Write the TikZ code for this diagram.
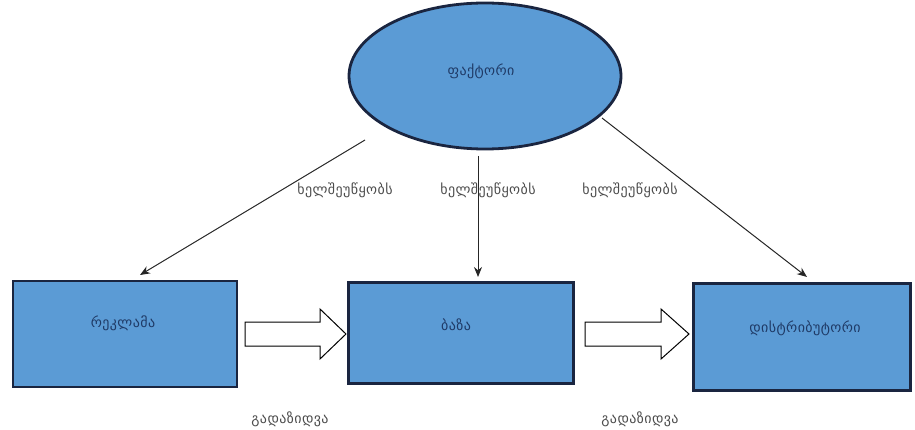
\documentclass[tikz,border=0pt]{standalone}
\usepackage{fontspec}
\setmainfont{DejaVu Sans}[LetterSpace=3]
\usetikzlibrary{shapes.geometric,arrows.meta}
\definecolor{boxfill}{HTML}{5B9BD5}
\definecolor{boxline}{HTML}{1A2540}
\definecolor{boxtext}{HTML}{1F3A66}
\tikzset{
  blk/.style={draw=boxline,line width=2.8pt,fill=boxfill,inner sep=0pt},
  intext/.style={text=boxtext,font=\fontsize{14}{16}\selectfont},
  lbl/.style={text=black!70,font=\fontsize{14}{16}\selectfont},
  conn/.style={draw=black!85,line width=1pt,-{Stealth[length=10pt,width=8pt]}},
  fatarrow/.style={draw=black,line width=1pt,fill=white}
}
\begin{document}
\begin{tikzpicture}[x=1pt,y=-1pt]
\useasboundingbox (0,0) rectangle (915,430);
\node[blk,ellipse,minimum width=272,minimum height=146] (god) at (485,76) {};
\node[intext] at (481,71) {ფაქტორი};
\node[blk,rectangle,minimum width=224,minimum height=106] (b1) at (125,334) {};
\node[blk,rectangle,minimum width=225,minimum height=101] (b2) at (461,333) {};
\node[blk,rectangle,minimum width=217,minimum height=107] (b3) at (802,337) {};
\node[intext] at (123,323) {რეკლამა};
\node[intext] at (456,325) {ბაზა};
\node[intext] at (805,328) {დისტრიბუტორი};
\coordinate (s1) at (365,140);
\coordinate (s2) at (478,156);
\coordinate (s3) at (602,118);
\draw[conn] (s1) -- (140,275);
\draw[conn] (s2) -- (478,277);
\draw[conn] (s3) -- (807,277);
\node[lbl] at (345,190) {ხელშეუწყობს};
\node[lbl] at (488,190) {ხელშეუწყობს};
\node[lbl] at (630,190) {ხელშეუწყობს};
\draw[fatarrow] (245,322) -- (320,322) -- (320,309) -- (346,334) -- (320,359) -- (320,346) -- (245,346) -- cycle;
\draw[fatarrow] (585,322) -- (661,322) -- (661,309) -- (689,334) -- (661,359) -- (661,346) -- (585,346) -- cycle;
\node[lbl] at (290,419) {გადაზიდვა};
\node[lbl] at (640,419) {გადაზიდვა};
\end{tikzpicture}
\end{document}
